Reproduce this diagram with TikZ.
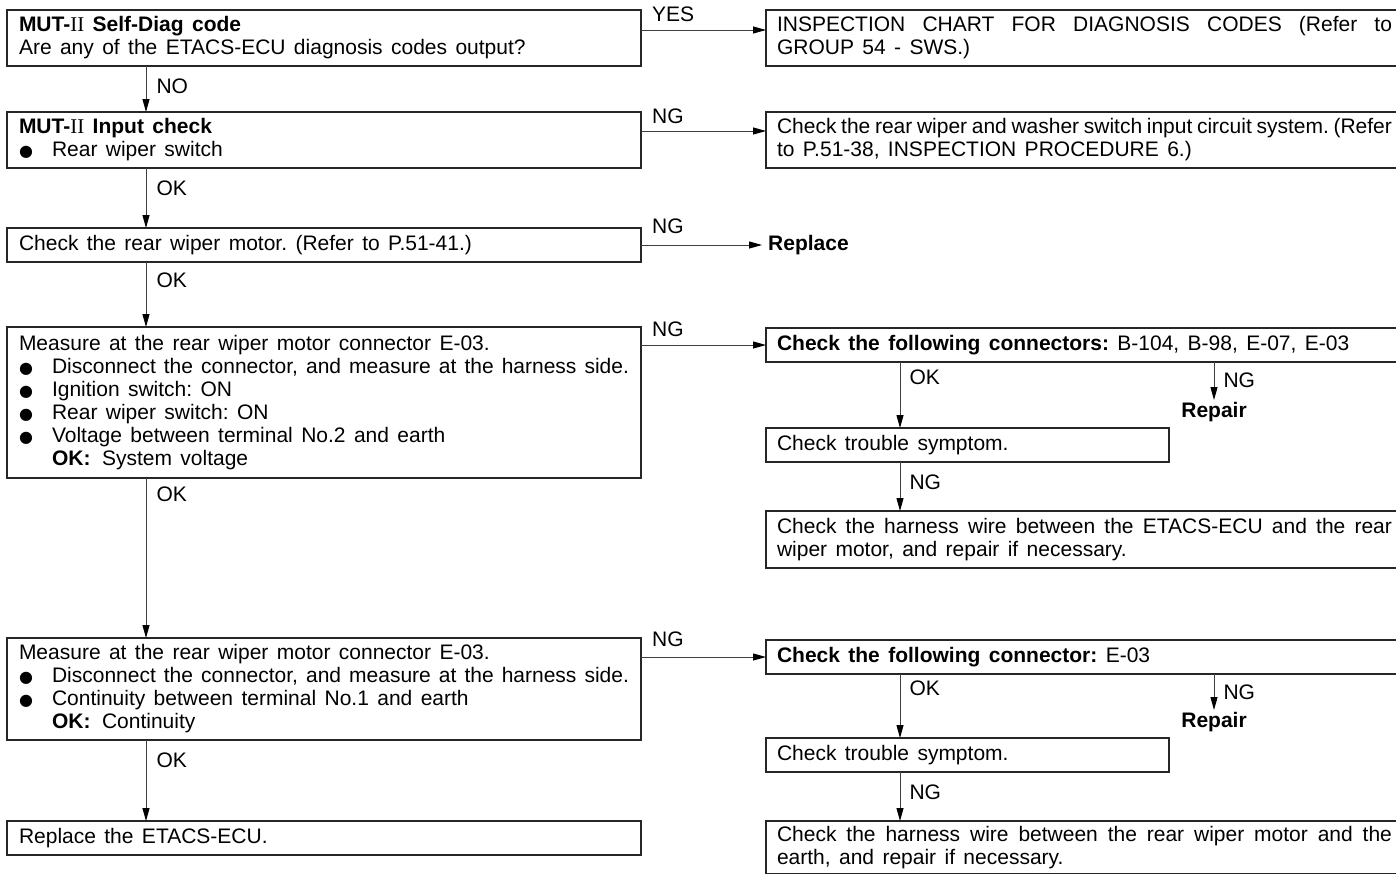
\documentclass[tikz,border=0pt]{standalone}
\usepackage{fontspec}
\setmainfont{Liberation Sans}
\newfontfamily\romii{Liberation Serif}
\newfontfamily\dejavu{DejaVu Sans}
\usetikzlibrary{arrows.meta,calc}
\newcommand\bodyfont{\fontsize{21}{23}\selectfont\frenchspacing}
\newcommand\setsp{\spaceskip=0.40em plus 0.5em minus 0.1em\relax}
\newcommand\bul{\makebox[33pt][l]{\raisebox{0pt}{\dejavu\fontsize{16}{16}\selectfont ●}}}
\newcommand\mut{\textbf{MUT-}{\romii II}}
\newcommand\jl[1]{\hbox to 615pt{\spaceskip=0.25em plus 1fil minus 0.12em\relax #1}}
\tikzset{
  lbox/.style={draw=black!85, line width=1.2pt, anchor=north west, font=\bodyfont,
    execute at begin node=\setsp,
    text width=610pt, inner xsep=12pt, inner ysep=4pt, align=left, outer sep=0pt},
  rbox/.style={draw=black!85, line width=1.2pt, anchor=north west, font=\bodyfont,
    execute at begin node=\setsp,
    text width=615pt, inner xsep=11pt, inner ysep=4pt, align=left, outer sep=0pt},
  sbox/.style={rbox, text width=381pt},
  lbl/.style={font=\bodyfont, inner sep=0pt},
  bword/.style={font=\bodyfont\bfseries, inner sep=2pt},
  arr/.style={draw=black!75, line width=1pt, -{Triangle[length=13pt,width=7pt,color=black]}}
}
\begin{document}
\begin{tikzpicture}[x=1pt,y=-1pt]
\useasboundingbox (0,0) rectangle (1396,873);
\fill[white] (0,0) rectangle (1396,873);
% left column
\node[lbox, minimum height=56pt] (B1) at (7,10) {\mut\ \textbf{Self-Diag code}\\Are any of the ETACS-ECU diagnosis codes output?};
\node[lbox, minimum height=56pt] (B2) at (7,112) {\mut\ \textbf{Input check}\\\bul Rear wiper switch};
\node[lbox, minimum height=34pt] (B3) at (7,228) {Check the rear wiper motor. (Refer to P.51-41.)};
\node[lbox, minimum height=151pt] (B4) at (7,327) {Measure at the rear wiper motor connector E-03.\\
\bul Disconnect the connector, and measure at the harness side.\\
\bul Ignition switch: ON\\
\bul Rear wiper switch: ON\\
\bul Voltage between terminal No.2 and earth\\
\hspace*{33pt}\textbf{OK:}\hspace{0.55em}System voltage};
\node[lbox, minimum height=102pt] (B5) at (7,638) {Measure at the rear wiper motor connector E-03.\\
\bul Disconnect the connector, and measure at the harness side.\\
\bul Continuity between terminal No.1 and earth\\
\hspace*{33pt}\textbf{OK:}\hspace{0.55em}Continuity};
\node[lbox, minimum height=34pt] (B6) at (7,821) {Replace the ETACS-ECU.};
% right column
\node[rbox, minimum height=56pt] (R1) at (766,10) {\jl{INSPECTION CHART FOR DIAGNOSIS CODES (Refer to}\\GROUP 54 - SWS.)};
\node[rbox, minimum height=56pt] (R2) at (766,112) {\jl{Check the rear wiper and washer switch input circuit system. (Refer}\\to P.51-38, INSPECTION PROCEDURE 6.)};
\node[bword, anchor=west, inner xsep=6pt] (RP) at (762,245) {Replace};
\node[rbox, minimum height=34pt] (R4) at (766,328) {\textbf{Check the following connectors:} B-104, B-98, E-07, E-03};
\node[bword] (RA) at (1214,412) {Repair};
\node[sbox, minimum height=34pt] (R4b) at (766,428) {Check trouble symptom.};
\node[rbox, minimum height=57pt] (R4c) at (766,511) {\jl{Check the harness wire between the ETACS-ECU and the rear}\\wiper motor, and repair if necessary.};
\node[rbox, minimum height=34pt] (R5) at (766,640) {\textbf{Check the following connector:} E-03};
\node[bword] (RB) at (1214,722) {Repair};
\node[sbox, minimum height=34pt] (R5b) at (766,738) {Check trouble symptom.};
\node[rbox, inner ysep=5pt] (R5c) at (766,821) {\jl{Check the harness wire between the rear wiper motor and the}\\earth, and repair if necessary.};
% column coordinates
\coordinate (cx) at (146,0);
\coordinate (rx) at (900,0);
% vertical connectors, left
\draw[arr] (B1.south -| cx) -- (B2.north -| cx) node[lbl, at start, anchor=north west, xshift=10pt, yshift=-12pt] {NO};
\draw[arr] (B2.south -| cx) -- (B3.north -| cx) node[lbl, at start, anchor=north west, xshift=10pt, yshift=-12pt] {OK};
\draw[arr] (B3.south -| cx) -- (B4.north -| cx) node[lbl, at start, anchor=north west, xshift=10pt, yshift=-10pt] {OK};
\draw[arr] (B4.south -| cx) -- (B5.north -| cx) node[lbl, at start, anchor=north west, xshift=10pt, yshift=-8pt] {OK};
\draw[arr] (B5.south -| cx) -- (B6.north -| cx) node[lbl, at start, anchor=north west, xshift=10pt, yshift=-12pt] {OK};
% horizontal connectors
\coordinate (h1) at ($(R1.north west)+(0,20)$);
\draw[arr] (B1.east |- h1) -- (h1);
\node[lbl, anchor=west] at ($(B1.north east)+(11,4)$) {YES};
\coordinate (h2) at ($(R2.north west)+(0,19)$);
\draw[arr] (B2.east |- h2) -- (h2);
\node[lbl, anchor=west] at ($(B2.north east)+(11,4)$) {NG};
\draw[arr] (B3.east) -- (RP.west);
\node[lbl, anchor=west] at ($(B3.north east)+(11,-2)$) {NG};
\draw[arr] (B4.east |- R4.west) -- (R4.west);
\node[lbl, anchor=west] at ($(B4.north east)+(11,2)$) {NG};
\draw[arr] (B5.east |- R5.west) -- (R5.west);
\node[lbl, anchor=west] at ($(B5.north east)+(11,1)$) {NG};
% right sub-flows
\draw[arr] (R4.south -| rx) -- (R4b.north -| rx) node[lbl, at start, anchor=north west, xshift=9pt, yshift=-7pt] {OK};
\draw[arr] (R4.south -| RA.north) -- (RA.north) node[lbl, at start, anchor=north west, xshift=9pt, yshift=-10pt] {NG};
\draw[arr] (R4b.south -| rx) -- (R4c.north -| rx) node[lbl, at start, anchor=north west, xshift=9pt, yshift=-12pt] {NG};
\draw[arr] (R5.south -| rx) -- (R5b.north -| rx) node[lbl, at start, anchor=north west, xshift=9pt, yshift=-6pt] {OK};
\draw[arr] (R5.south -| RB.north) -- (RB.north) node[lbl, at start, anchor=north west, xshift=9pt, yshift=-10pt] {NG};
\draw[arr] (R5b.south -| rx) -- (R5c.north -| rx) node[lbl, at start, anchor=north west, xshift=9pt, yshift=-12pt] {NG};
\end{tikzpicture}
\end{document}
